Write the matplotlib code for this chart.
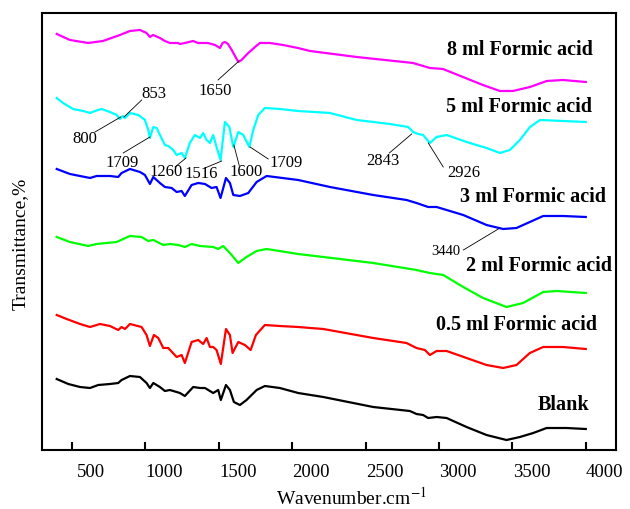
import matplotlib
matplotlib.use("Agg")
import matplotlib.pyplot as plt
from matplotlib.transforms import ScaledTranslation

plt.rcParams['font.family'] = ['Liberation Serif', 'DejaVu Serif']
plt.rcParams['mathtext.fontset'] = 'stix'

# FTIR spectra, offset vertically (arbitrary transmittance units)
wn_8ml = [396, 486, 611, 711, 827, 895, 963, 1008, 1031, 1052, 1099, 1133, 1167, 1222, 1235,
          1269, 1325, 1358, 1426, 1474, 1508, 1526, 1542, 1563, 1588, 1633, 1655, 1701, 1747,
          1780, 1848, 1937, 2039, 2121, 2439, 2823, 2938, 3027, 3163, 3299, 3415, 3504, 3620,
          3734, 3844, 4000]
t_8ml = [416, 410, 407, 409, 415, 419, 420, 417, 413, 415, 412, 409, 407, 407, 406,
         407, 409, 407, 407, 405, 402, 407, 408, 406, 400, 388, 390, 397, 403,
         407, 407, 405, 402, 399, 393, 387, 382, 381, 373, 365, 359, 359, 363,
         369, 370, 368]

wn_5ml = [396, 439, 507, 575, 623, 657, 702, 759, 804, 827, 845, 861, 895, 952, 997, 1020,
          1031, 1054, 1077, 1099, 1133, 1156, 1190, 1213, 1247, 1269, 1303, 1337, 1372, 1394,
          1417, 1440, 1462, 1485, 1512, 1542, 1572, 1599, 1633, 1667, 1708, 1735, 1769, 1814,
          1916, 2039, 2257, 2439, 2666, 2790, 2824, 2858, 2892, 2938, 2984, 3052, 3188, 3324,
          3415, 3483, 3551, 3620, 3688, 3846, 4000]
t_5ml = [352, 347, 341, 339, 337, 339, 341, 338, 335, 331, 334, 332, 337, 335, 330, 320,
         312, 323, 322, 315, 305, 304, 300, 295, 297, 292, 307, 315, 312, 317,
         310, 307, 315, 303, 290, 328, 323, 303, 318, 315, 303, 320, 335, 342,
         341, 339, 337, 330, 326, 323, 318, 316, 315, 307, 313, 315, 308, 302,
         297, 300, 310, 323, 330, 329, 328]

wn_3ml = [396, 486, 623, 668, 759, 815, 838, 895, 963, 997, 1031, 1054, 1099, 1133, 1179,
          1213, 1247, 1269, 1315, 1360, 1406, 1451, 1485, 1512, 1549, 1576, 1599, 1644, 1701,
          1758, 1826, 2041, 2257, 2552, 2779, 2847, 2926, 2984, 3165, 3324, 3437, 3528, 3619,
          3710, 3846, 4000]
t_3ml = [281, 276, 272, 274, 274, 273, 277, 281, 278, 275, 266, 273, 267, 263, 262,
         258, 259, 254, 265, 267, 266, 262, 263, 252, 272, 267, 255, 254, 257,
         268, 274, 270, 263, 255, 250, 247, 243, 243, 235, 225, 221, 222, 228,
         234, 234, 233]

wn_2ml = [396, 486, 611, 668, 804, 895, 974, 1020, 1054, 1122, 1167, 1224, 1269, 1315, 1372,
          1462, 1496, 1530, 1576, 1633, 1689, 1758, 1826, 2041, 2212, 2552, 2847, 2938, 3029,
          3165, 3301, 3460, 3573, 3710, 3801, 4000]
t_2ml = [213, 208, 204, 206, 208, 214, 213, 209, 210, 205, 206, 205, 203, 206, 204,
         203, 201, 204, 197, 187, 193, 199, 201, 196, 193, 187, 180, 177, 175,
         163, 152, 143, 147, 158, 159, 157]

wn_05ml = [396, 464, 555, 623, 691, 759, 815, 838, 861, 895, 974, 1008, 1031, 1058, 1088,
           1122, 1156, 1213, 1247, 1269, 1315, 1360, 1394, 1417, 1440, 1462, 1485, 1514, 1549,
           1576, 1594, 1633, 1678, 1717, 1753, 1814, 1916, 2041, 2212, 2552, 2779, 2847, 2904,
           2938, 2984, 3052, 3188, 3324, 3437, 3528, 3619, 3710, 3846, 4000]
t_05ml = [135, 131, 126, 123, 126, 124, 120, 123, 121, 126, 123, 115, 104, 115, 112,
          102, 102, 93, 95, 87, 108, 110, 106, 112, 103, 103, 100, 86, 121,
          115, 97, 108, 105, 100, 115, 125, 124, 123, 121, 112, 107, 102, 100,
          95, 99, 99, 92, 85, 82, 85, 97, 103, 103, 101]

wn_blank = [396, 475, 555, 623, 679, 759, 815, 838, 895, 963, 1008, 1031, 1054, 1099, 1133,
            1167, 1213, 1235, 1269, 1326, 1372, 1406, 1462, 1496, 1514, 1549, 1576, 1603, 1644,
            1689, 1758, 1814, 1916, 2041, 2212, 2552, 2802, 2847, 2892, 2926, 2984, 3052, 3188,
            3324, 3460, 3551, 3642, 3733, 3869, 4000]
t_blank = [71, 66, 63, 62, 65, 66, 67, 70, 74, 73, 67, 62, 67, 63, 59,
           60, 58, 57, 54, 63, 62, 62, 57, 60, 50, 65, 60, 48, 45,
           50, 60, 64, 62, 57, 53, 43, 39, 36, 35, 32, 33, 32, 23,
           15, 10, 13, 17, 22, 22, 21]

series = [
    (wn_8ml, t_8ml, '#ff00ff', '8 ml Formic acid', (4049, 400)),
    (wn_5ml, t_5ml, '#00ffff', '5 ml Formic acid', (4042, 343)),
    (wn_3ml, t_3ml, '#0000ff', '3 ml Formic acid', (4138, 253)),
    (wn_2ml, t_2ml, '#00ff00', '2 ml Formic acid', (4179, 184)),
    (wn_05ml, t_05ml, '#ff0000', '0.5 ml Formic acid', (4076, 125)),
    (wn_blank, t_blank, '#000000', 'Blank', (4022, 45)),
]

# peak labels: text, text position, line start, peak position
peaks = [
    ('1650', (1474, 359), (1495, 370), (1638, 389)),
    ('853', (1059, 356), (975, 350), (854, 333)),
    ('800', (585, 311), (657, 318), (832, 333)),
    ('1709', (841, 287), (849, 297), (1031, 313)),
    ('1260', (1144, 278), (1202, 283), (1277, 292)),
    ('1516', (1382, 276), (1406, 282), (1520, 289)),
    ('1600', (1685, 278), (1640, 284), (1603, 305)),
    ('1709', (1961, 287), (1837, 291), (1713, 303)),
    ('2843', (2615, 289), (2662, 297), (2814, 316)),
    ('2926', (3170, 277), (3029, 283), (2927, 307)),
    ('3440', (3044, 198), (3166, 200), (3404, 221)),
]

fig = plt.figure(figsize=(6.3, 5.09), dpi=100)
ax = fig.add_axes([0.0667, 0.1159, 0.9111, 0.8586])

for wn, t, color, name, (lx, ly) in series:
    ax.plot(wn, t, color=color, lw=1.6)
    ax.text(lx, ly, name, ha='right', va='center', fontsize=14.5, fontweight='bold')

for label, (tx, ty), (x0, y0), (x1, y1) in peaks:
    ax.plot([x0, x1], [y0, y1], color='black', lw=0.6)
    size = 10.5 if label == '3440' else 12
    ax.text(tx, ty, label, ha='center', va='center', fontsize=size)

ax.set_xlim(296, 4206)
ax.set_ylim(0, 437)
ax.set_xticks([500, 1000, 1500, 2000, 2500, 3000, 3500, 4000])
ax.set_yticks([])
ax.tick_params(axis='x', direction='in', length=6, width=1.5, labelsize=13.5, pad=10)
for lab in ax.get_xticklabels():
    lab.set_transform(lab.get_transform() + ScaledTranslation(0.19, 0, fig.dpi_scale_trans))
for sp in ax.spines.values():
    sp.set_linewidth(1.5)

fig.text(351 / 630, 1 - 498 / 509, 'Wavenumber.cm$^{-1}$', ha='center', va='center', fontsize=14)
fig.text(20 / 630, 1 - 244 / 509, 'Transmittance,%', ha='center', va='center',
         rotation=90, fontsize=14)

fig.savefig('out.png', dpi=100)
